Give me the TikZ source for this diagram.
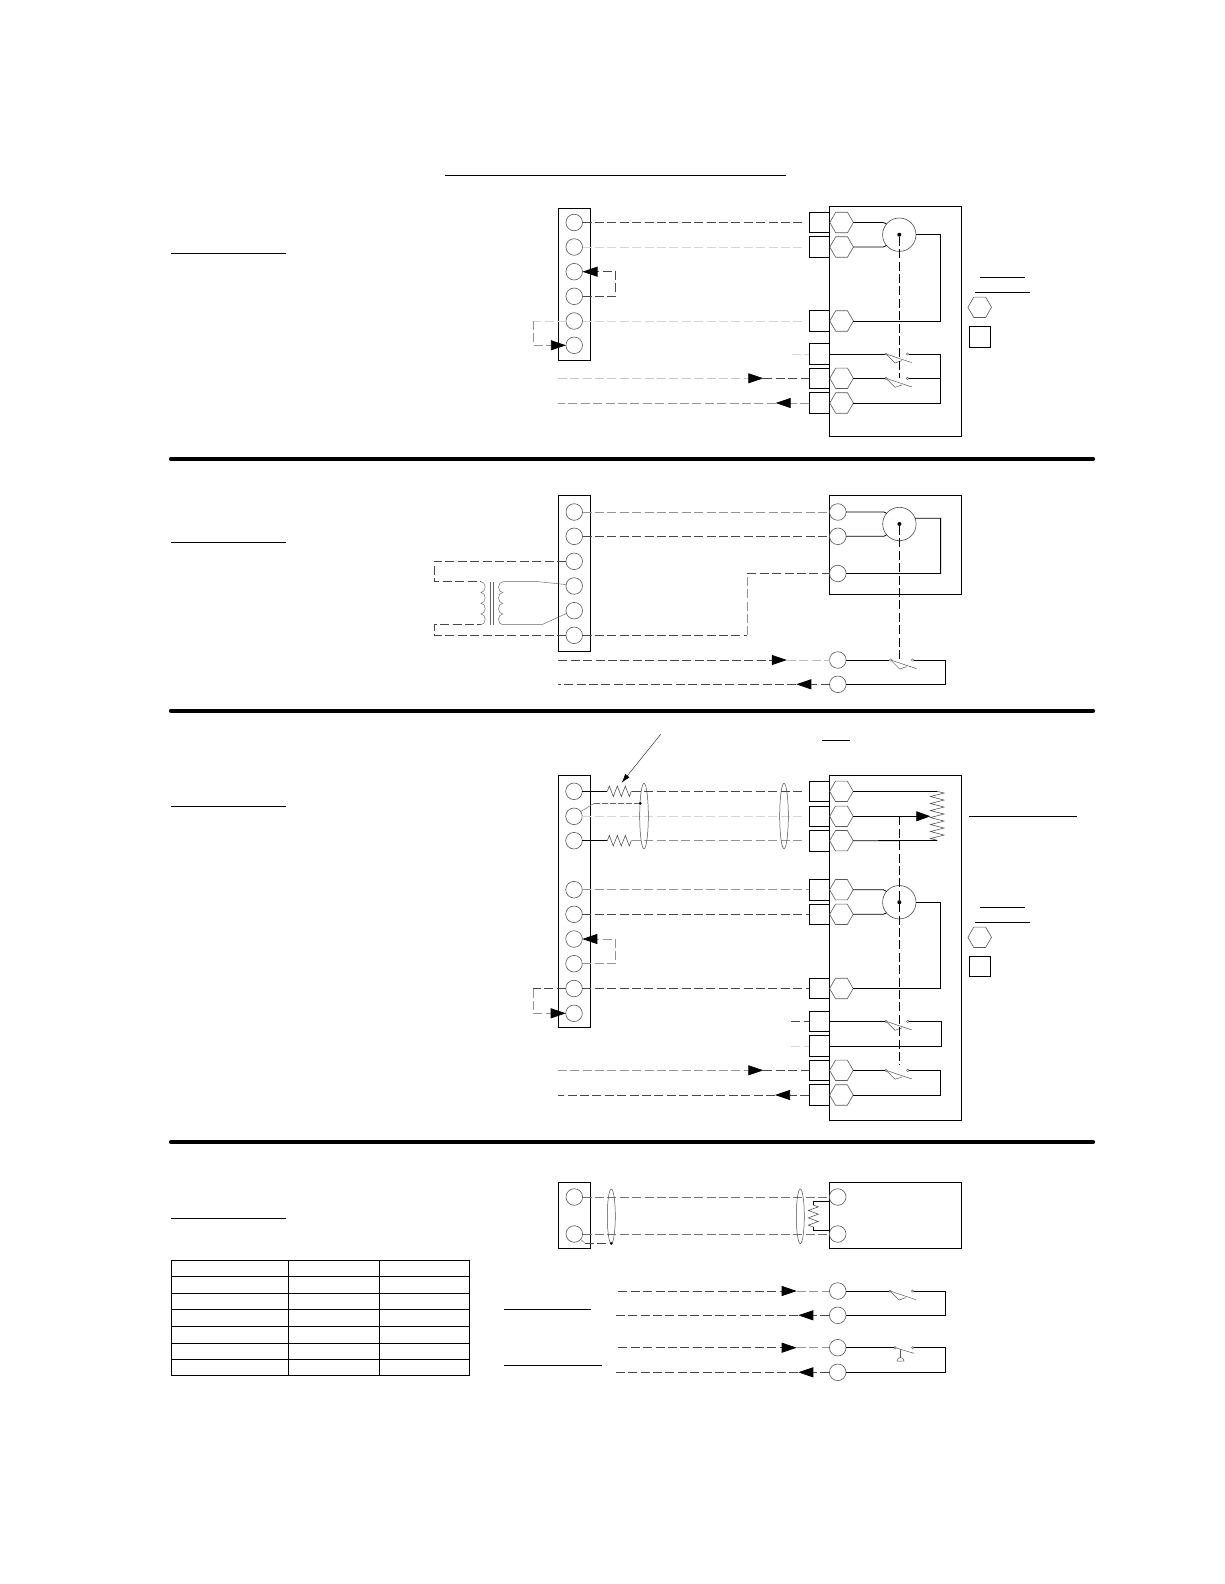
\documentclass[tikz,border=0pt]{standalone}
\usetikzlibrary{shapes.geometric,decorations.pathmorphing,arrows.meta}
\tikzset{
  termn/.style={circle,draw=black!65,line width=.6pt,minimum size=16.6pt,inner sep=0pt,outer sep=0pt},
  hexn/.style={regular polygon,regular polygon sides=6,draw=black!65,line width=.6pt,minimum size=23.6pt,inner sep=0pt,outer sep=0pt},
  sqn/.style={rectangle,draw=black,line width=.8pt,minimum width=20pt,minimum height=20.6pt,inner sep=0pt,outer sep=0pt},
  framen/.style={rectangle,draw=black,line width=.9pt,inner sep=0pt,outer sep=0pt},
  motorn/.style={circle,draw=black!70,line width=.6pt,minimum size=33.4pt,inner sep=0pt,outer sep=0pt},
  dotn/.style={circle,fill=black,minimum size=#1,inner sep=0pt,outer sep=0pt},
  dotn/.default=4pt,
  contactn/.style={circle,draw=black!70,line width=.4pt,minimum size=2.4pt,inner sep=0pt,outer sep=0pt},
  shieldn/.style={ellipse,draw=black!70,line width=.5pt,inner sep=0pt,outer sep=0pt,minimum width=8.6pt},
  sigdash/.style={line width=.7pt,dash pattern=on 9pt off 3.4pt},
  dk/.style={sigdash,draw=black!72},
  md/.style={sigdash,draw=black!42},
  lt/.style={sigdash,draw=black!16},
  gap/.style={shorten >=4.2pt},
  wire/.style={draw=black,line width=.8pt},
  thin wire/.style={draw=black!60,line width=.45pt},
  link/.style={sigdash,draw=black,line width=.8pt},
  rule/.style={draw=black,line width=.9pt},
  heavy/.style={draw=black,line width=4.2pt,line cap=round},
  headtip/.style={-{Triangle[length=15pt,width=10pt,color=black,fill=black]}},
  zig/.style={draw=black!75,line width=.5pt,decorate,decoration={zigzag,segment length=#1,amplitude=5.3pt}},
  zig/.default=8pt,
  arm/.style={draw=black!65,line width=.5pt}
}
\newcommand{\contacts}[4]{% name, pivot x, contact x, y
  \node[contactn] (#1p) at (#2,#4) {};
  \node[contactn] (#1c) at (#3,#4) {};
  \draw[arm] (#1p) -- ++(25.7,8.6);
  \draw[arm] (#1p) -- ++(9,9) -- ++(7,-2.4);
}
\begin{document}
\begin{tikzpicture}[x=1pt,y=-1pt]
\useasboundingbox (0,0) rectangle (1224,1584);
\fill[white] (0,0) rectangle (1224,1584);

% ---------- rules and headings
\coordinate (ra) at (445,175.3); \coordinate (rb) at (785.7,175.3);
\draw[rule] (ra) -- (rb);
\draw[rule] (171,253.3) -- (286,253.3);
\draw[rule] (171,542.3) -- (286,542.3);
\draw[rule] (171,806.3) -- (286,806.3);
\draw[rule] (171,1218.7) -- (286,1218.7);
\draw[heavy] (171,459) -- (1093,459);
\draw[heavy] (171,710.7) -- (1093,710.7);
\draw[heavy] (171,1142) -- (1093,1142);

% ---------- SECTION 1
\node[framen,minimum width=32.4pt,minimum height=152pt] (s1) at (574.5,284.3) {};
\node[framen,minimum width=132.4pt,minimum height=229.7pt] (b1) at (895.5,321.2) {};
\foreach \n/\y in {a/222.5,b/247,c/271.7,d/296.3,e/321,f/345.3}
  \node[termn] (s1\n) at (574.2,\y) {};
\foreach \n/\y in {a/222.5,b/247,c/321,d/354,e/378.3,f/403}
  \node[sqn] (q1\n) at (819.4,\y) {};
\foreach \n/\y in {a/222.5,b/247,c/321,e/378.3,f/403}
  \node[hexn] (h1\n) at (841.6,\y) {};
\node[motorn] (m1) at (899.3,234.7) {};
\node[dotn] (m1d) at (m1.center) {};
\contacts{w1}{886}{907.5}{354}
\contacts{w2}{886}{907.5}{378.3}
\coordinate (l1e) at (899.3,378.3);
\draw[link] (m1d) -- (l1e);
\draw[wire] (h1a.east) -- (883.3,222.5) -- (m1.140);
\draw[wire] (h1b.east) -- (883.3,247) -- (m1.220);
\draw[wire] (m1.east) -- (940.3,234.7) -- (940.3,321) -- (h1c.east);
\draw[wire] (q1d.east) -- (w1p);
\draw[wire] (w1c) -- (940.3,354) -- (940.3,403) -- (h1f.east);
\draw[wire] (h1e.east) -- (w2p);
\draw[wire] (w2c) -- (940.3,378.3);
\draw[dk,gap] (s1a.east) -- (q1a.west);
\draw[lt,gap] (s1b.east) -- (q1b.west);
\draw[lt,gap] (s1e.east) -- (q1c.west);
\coordinate (j1) at (615.7,296.3); \coordinate (j2) at (615.7,271.7);
\draw[dk,headtip] (s1d.east) -- (j1) -- (j2) -- (s1c.east);
\coordinate (j3) at (533.3,321); \coordinate (j4) at (533.3,345.3);
\draw[lt] (s1e.west) -- (j3);
\draw[md,headtip] (j3) -- (j4) -- (s1f.west);
\coordinate (u1) at (791.7,354);
\draw[lt] (u1) -- (q1d.west);
\coordinate (a1s) at (557.7,378.3); \coordinate (a1t) at (763.3,378.3);
\draw[lt,draw=black!22,headtip] (a1s) -- (a1t);
\draw[dk] (a1t) -- (q1e.west);
\coordinate (a2s) at (557.7,403); \coordinate (a2t) at (775.7,403);
\draw[md,headtip] (q1f.west) -- (a2t);
\draw[md] (a2t) -- (a2s);
% legend 1
\draw[rule] (980,277.3) -- (1025,277.3);
\draw[rule] (975,292.3) -- (1030,292.3);
\node[hexn] (k1h) at (979.7,307.3) {};
\node[sqn,minimum width=21pt,minimum height=21pt] (k1q) at (980,336.8) {};

% ---------- SECTION 2
\node[framen,minimum width=32.2pt,minimum height=156pt] (s2) at (574.4,573.3) {};
\node[framen,minimum width=132.4pt,minimum height=99pt] (b2) at (895.5,544.8) {};
\foreach \n/\y in {a/512,b/536.3,c/561.3,d/586,e/610.7,f/635.3}
  \node[termn] (s2\n) at (574.2,\y) {};
\foreach \n/\y in {a/512,b/536.3,c/573.5,d/660,e/684.3}
  \node[termn] (r2\n) at (837.8,\y) {};
\node[motorn] (m2) at (899.4,524) {};
\node[dotn] (m2d) at (m2.center) {};
\contacts{w3}{890.6}{912.6}{660}
\coordinate (l2e) at (899.4,660);
\draw[link] (m2d) -- (l2e);
\draw[wire] (r2a.east) -- (884,512) -- (m2.140);
\draw[wire] (r2b.east) -- (884,536.3) -- (m2.220);
\draw[wire] (m2.20) -- (940.6,518.3) -- (940.6,573.5) -- (r2c.east);
\draw[wire] (r2d.east) -- (w3p);
\draw[wire] (w3c) -- (945.7,660) -- (945.7,684.3) -- (r2e.east);
\draw[md] (s2a.east) -- (r2a.west);
\draw[dk] (s2b.east) -- (r2b.west);
\draw[dk] (s2f.east) -- (747.3,635.3);
\draw[md] (747.3,635.3) -- (747.3,573.5);
\draw[dk] (747.3,573.5) -- (r2c.west);
\coordinate (tl1) at (480.9,581.7); \coordinate (tl2) at (480.9,624.7);
\draw[dk] (s2c.west) -- (433.9,561.3) -- (433.9,581.7) -- (tl1);
\draw[dk] (s2f.west) -- (433.9,635.3) -- (433.9,624.7) -- (tl2);
\draw[thin wire] (tl1)
  arc[start angle=90,end angle=-90,x radius=4.3pt,y radius=5.375pt]
  arc[start angle=90,end angle=-90,x radius=4.3pt,y radius=5.375pt]
  arc[start angle=90,end angle=-90,x radius=4.3pt,y radius=5.375pt]
  arc[start angle=90,end angle=-90,x radius=4.3pt,y radius=5.375pt];
\draw[thin wire] (502.8,581.7)
  arc[start angle=90,end angle=270,x radius=4.3pt,y radius=5.375pt]
  arc[start angle=90,end angle=270,x radius=4.3pt,y radius=5.375pt]
  arc[start angle=90,end angle=270,x radius=4.3pt,y radius=5.375pt]
  arc[start angle=90,end angle=270,x radius=4.3pt,y radius=5.375pt];
\draw[thin wire] (490.3,581.7) -- (490.3,624.7);
\draw[thin wire] (493.7,581.7) -- (493.7,624.7);
\draw[thin wire] (502.8,581.7) -- (538.3,581.7) -- (s2d.170);
\draw[thin wire] (502.8,624.7) -- (541.7,624.7) -- (s2e.200);
\coordinate (a3s) at (558.3,660); \coordinate (a3t) at (786.8,660);
\draw[dk,headtip] (a3s) -- (a3t);
\draw[lt,draw=black!25] (a3t) -- (r2d.west);
\coordinate (a4s) at (558.3,684.3); \coordinate (a4t) at (796.3,684.3);
\draw[dk,headtip] (r2e.west) -- (a4t);
\draw[dk] (a4t) -- (a4s);

% ---------- SECTION 3
\node[framen,minimum width=32.4pt,minimum height=252pt] (s3) at (574.5,901.3) {};
\node[framen,minimum width=132.4pt,minimum height=344.7pt] (b3) at (895.5,947.7) {};
\foreach \n/\y in {a/791.3,b/816.3,c/840.7,d/889.7,e/914.3,f/939,g/963.7,h/988.5,i/1013.3}
  \node[termn] (s3\n) at (574,\y) {};
\foreach \n/\y in {a/791.3,b/816.3,c/840.7,d/889.7,e/914.3,f/988.5,g/1021.3,h/1046,i/1070.3,j/1095}
  \node[sqn] (q3\n) at (819.4,\y) {};
\foreach \n/\y in {a/791.3,b/816.3,c/840.7,d/889.7,e/914.3,f/988.5,i/1070.3,j/1095}
  \node[hexn] (h3\n) at (841.4,\y) {};
\node[motorn] (m3) at (899.3,902.2) {};
\node[dotn] (m3d) at (m3.center) {};
\contacts{w4}{886}{907.7}{1021.3}
\contacts{w5}{886}{907.7}{1070.3}
\coordinate (l3a) at (899.3,816.3); \coordinate (l3e) at (899.3,1065);
\draw[link] (l3a) -- (l3e);
% pot
\coordinate (pa) at (937.2,791.3); \coordinate (pb) at (937.2,840.5);
\draw[zig=7pt,decoration={amplitude=6.9pt}] (pa) -- (pb);
\coordinate (pt) at (930.3,816.3);
\draw[wire] (h3a.east) -- (pa);
\draw[wire] (h3c.east) -- (pb);
\draw[wire,-{Triangle[length=14pt,width=10pt,color=black,fill=black]}] (h3b.east) -- (pt);
% motor wires
\draw[wire] (h3d.east) -- (883.3,889.7) -- (m3.140);
\draw[wire] (h3e.east) -- (883.3,914.3) -- (m3.220);
\draw[wire] (m3.east) -- (940.7,902.2) -- (940.7,988.5) -- (h3f.east);
\draw[wire] (q3g.east) -- (w4p);
\draw[wire] (w4c) -- (941.3,1021.3) -- (941.3,1046) -- (q3h.east);
\draw[wire] (h3i.east) -- (w5p);
\draw[wire] (w5c) -- (940.7,1070.3) -- (940.7,1095) -- (h3j.east);
% resistors
\coordinate (r1a) at (607.3,791.3); \coordinate (r1b) at (631.7,791.3);
\coordinate (r2a) at (607.3,840.7); \coordinate (r2b) at (631.7,840.7);
\draw[wire] (s3a.east) -- (r1a);
\draw[wire] (s3c.east) -- (r2a);
\draw[zig] (r1a) -- (r1b);
\draw[zig] (r2a) -- (r2b);
% shield
\draw[dk,gap] (r1b) -- (q3a.west);
\draw[lt,gap] (s3b.east) -- (q3b.west);
\draw[md,gap] (r2b) -- (q3c.west);
\draw[md] (s3d.east) -- (q3d.west);
\draw[dk] (s3e.east) -- (q3e.west);
\draw[dk] (s3h.east) -- (q3f.west);
\node[shieldn,minimum height=65.4pt] (e1) at (644,816) {};
\node[shieldn,minimum height=65.4pt] (e2) at (784,816) {};
\node[dotn=3pt] (g3) at (640.3,803.3) {};
\draw[thin wire] (s3b.35) -- (594,803.3);
\draw[thin wire,dash pattern=on 6pt off 2pt] (594,803.3) -- (g3);
% leader
\coordinate (lda) at (660.7,734.3); \coordinate (ldb) at (621.7,782.7);
\draw[draw=black!80,line width=.5pt,-{Latex[length=9pt,width=5.5pt,color=black,fill=black]}] (lda) -- (ldb);
% jumpers
\coordinate (j5) at (615.7,963.7); \coordinate (j6) at (615.7,939);
\draw[md,headtip] (s3g.east) -- (j5) -- (j6) -- (s3f.east);
\coordinate (j7) at (533.3,988.5); \coordinate (j8) at (533.3,1013.3);
\draw[dk] (s3h.west) -- (j7);
\draw[md,headtip] (j7) -- (j8) -- (s3i.west);
\coordinate (u2) at (791.3,1021.3); \coordinate (u3) at (791.3,1046);
\draw[dk] (u2) -- (q3g.west);
\draw[lt] (u3) -- (q3h.west);
\coordinate (a5s) at (557.7,1070.3); \coordinate (a5t) at (763.3,1070.3);
\draw[md,headtip] (a5s) -- (a5t);
\draw[dk] (a5t) -- (q3i.west);
\coordinate (a6s) at (557.7,1095); \coordinate (a6t) at (775,1095);
\draw[dk,headtip] (q3j.west) -- (a6t);
\draw[dk] (a6t) -- (a6s);
% labels' rules
\draw[rule] (822.3,740.3) -- (850,740.3);
\draw[rule] (969,816.3) -- (1076.7,816.3);
\draw[rule] (980,907.3) -- (1025,907.3);
\draw[rule] (975,922) -- (1030,922);
\node[hexn] (k3h) at (979.7,937.3) {};
\node[sqn,minimum width=21pt,minimum height=20.4pt] (k3q) at (980,966.3) {};

% ---------- SECTION 4
\node[framen,minimum width=32pt,minimum height=66pt] (s4) at (574.3,1215.3) {};
\node[framen,minimum width=132.4pt,minimum height=66pt] (b4) at (895.5,1215.3) {};
\node[termn] (s4a) at (574.3,1197) {};
\node[termn] (s4b) at (574.3,1234) {};
\node[termn] (r4a) at (837.7,1197) {};
\node[termn] (r4b) at (837.7,1234) {};
\draw[md,draw=black!55] (s4a.east) -- (r4a.west);
\draw[md,draw=black!55] (s4b.east) -- (r4b.west);
\node[shieldn,minimum height=54.6pt,minimum width=8pt] (e3) at (611.3,1216.3) {};
\node[shieldn,minimum height=54.6pt,minimum width=8pt] (e4) at (800.3,1216.3) {};
\node[dotn=3pt] (g4) at (611.3,1243.3) {};
\draw[thin wire] (s4b.-40) -- (585,1243.3);
\draw[dk] (585,1243.3) -- (g4);
\coordinate (r4t) at (813.3,1205); \coordinate (r4u) at (813.3,1227);
\draw[wire] (829.4,1201.3) -- (813.3,1201.3) -- (r4t);
\draw[wire] (829.4,1230.3) -- (813.3,1230.3) -- (r4u);
\draw[zig=7.33pt,decoration={amplitude=5pt}] (r4t) -- (r4u);
% lower loops
\foreach \n/\y in {c/1291,d/1315.3,e/1347.7,f/1372.3}
  \node[termn] (r4\n) at (837.7,\y) {};
\coordinate (a7s) at (618.3,1291); \coordinate (a7t) at (796.7,1291);
\draw[dk,headtip] (a7s) -- (a7t);
\draw[md] (a7t) -- (r4c.west);
\coordinate (a8s) at (615,1315.3); \coordinate (a8t) at (798.3,1315.3);
\draw[dk,headtip] (r4d.west) -- (a8t);
\draw[dk] (a8t) -- (a8s);
\coordinate (a9s) at (618.3,1347.7); \coordinate (a9t) at (796.7,1347.7);
\draw[dk,headtip] (a9s) -- (a9t);
\draw[md] (a9t) -- (r4e.west);
\coordinate (a0s) at (615,1372.3); \coordinate (a0t) at (798.3,1372.3);
\draw[dk,headtip] (r4f.west) -- (a0t);
\draw[dk] (a0t) -- (a0s);
\contacts{w6}{890}{912.7}{1291}
\node[contactn] (w7p) at (895,1347.7) {};
\node[contactn] (w7c) at (912.7,1347.7) {};
\draw[arm] (w7p) -- ++(19,5.6);
\draw[arm] (900.7,1349.4) -- (900.7,1358.3);
\draw[arm] (897,1361) arc[start angle=180,end angle=0,radius=3.5pt] -- cycle;
\draw[wire] (r4c.east) -- (w6p);
\draw[wire] (w6c) -- (945.3,1291) -- (945.3,1315.3) -- (r4d.east);
\draw[wire] (r4e.east) -- (w7p);
\draw[wire] (w7c) -- (945.3,1347.7) -- (945.3,1372.3) -- (r4f.east);
\draw[rule] (504,1309.3) -- (590.7,1309.3);
\draw[rule] (504,1365.3) -- (602,1365.3);

% ---------- TABLE
\foreach \y in {1260.3,1276.3,1293.3,1309.3,1326.3,1343.3,1359.3,1375.8}
  \draw[draw=black,line width=.8pt] (171,\y) -- (469.3,\y);
\foreach \x in {171,288.7,379,469.3}
  \draw[draw=black,line width=.8pt] (\x,1260.3) -- (\x,1375.8);
\end{tikzpicture}
\end{document}
